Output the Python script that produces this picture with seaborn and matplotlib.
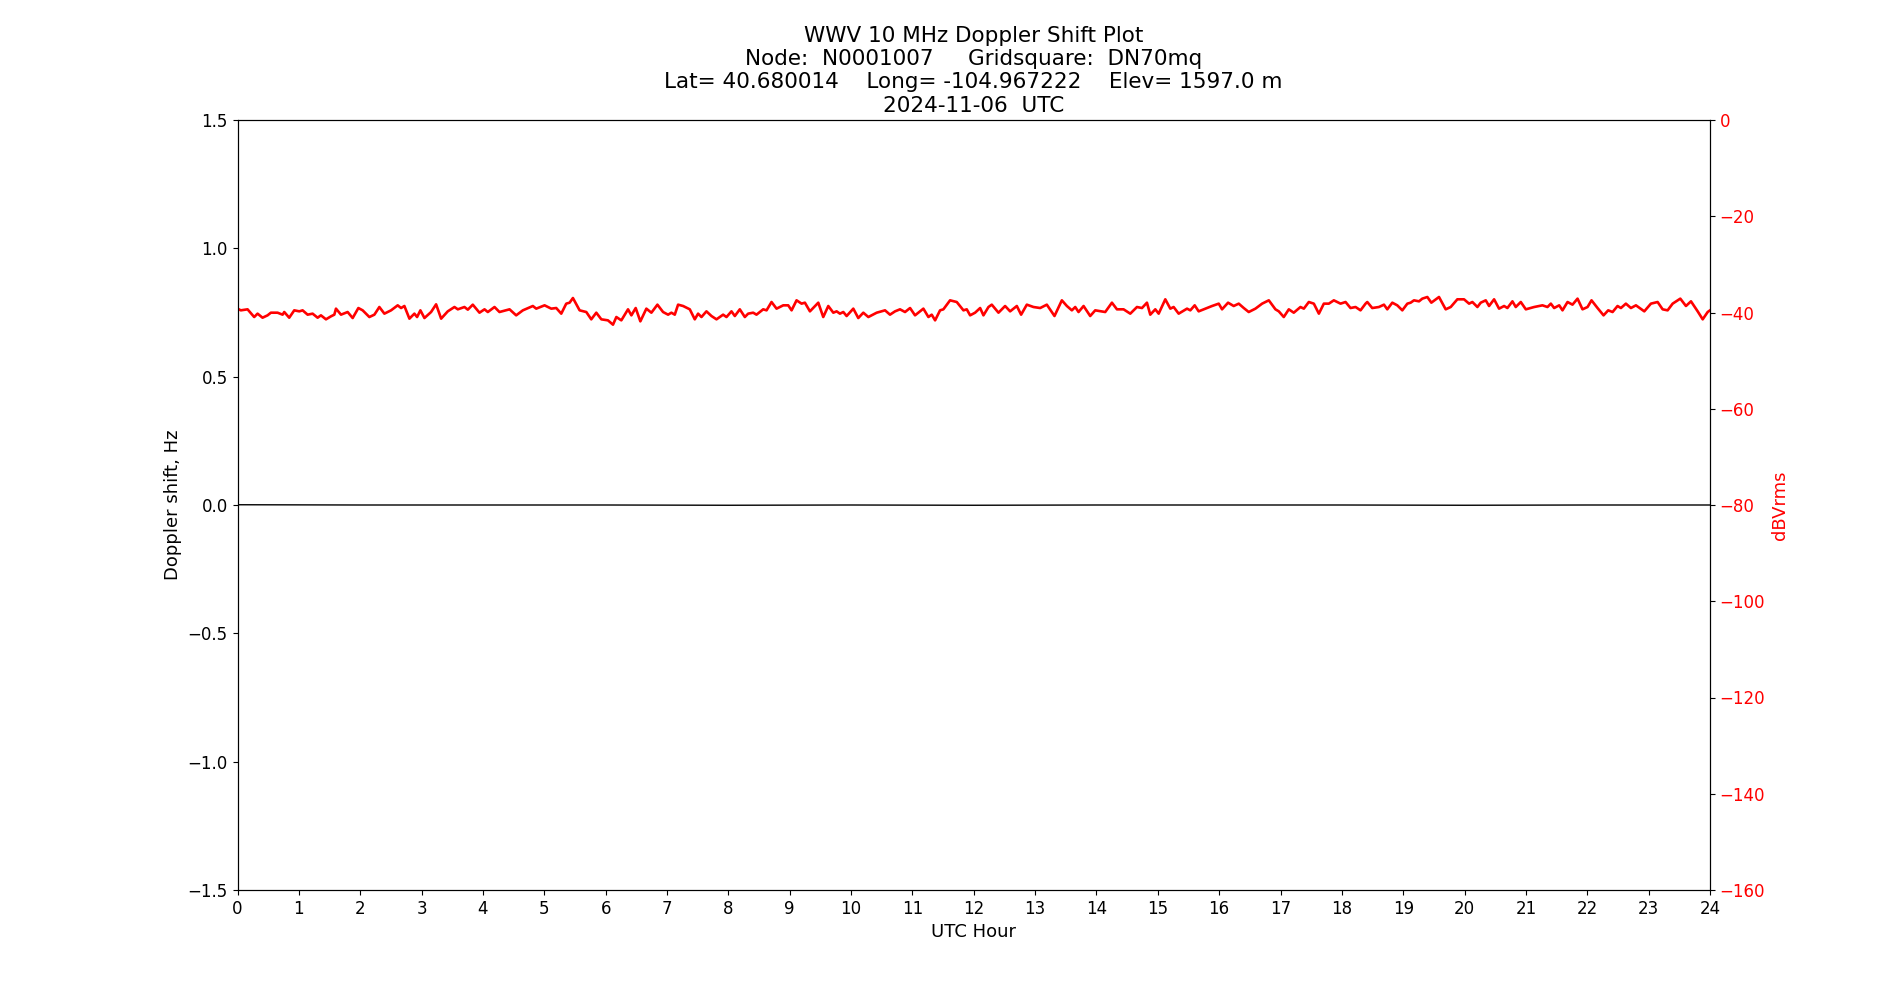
import numpy as np
import pandas as pd
import matplotlib
matplotlib.use("Agg")
import matplotlib.pyplot as plt
import seaborn as sns

# ---- data ----
doppler_hours = [0, 2, 4, 6, 8, 10, 12, 14, 16, 18, 20, 22, 24]
doppler_hz = [0.001, 0.0, 0.0, 0.0, -0.001, 0.0, -0.001, 0.0, 0.0, 0.0, -0.001, 0.0, 0.0]

power_hours = [
    0.0, 0.054, 0.164, 0.272, 0.327, 0.408, 0.490, 0.544, 0.653, 0.735, 0.762, 0.843, 0.925,
    1.007, 1.061, 1.143, 1.224, 1.306, 1.360, 1.442, 1.523, 1.578, 1.605, 1.687, 1.795, 1.877,
    1.970, 2.040, 2.149, 2.231, 2.312, 2.394, 2.503, 2.611, 2.666, 2.720, 2.802, 2.883, 2.927,
    2.981, 3.047, 3.155, 3.237, 3.319, 3.427, 3.536, 3.591, 3.699, 3.754, 3.835, 3.944, 4.026,
    4.080, 4.189, 4.270, 4.434, 4.542, 4.651, 4.814, 4.869, 5.005, 5.114, 5.195, 5.277, 5.358,
    5.413, 5.467, 5.576, 5.685, 5.766, 5.848, 5.930, 6.038, 6.120,
    6.175, 6.256, 6.365, 6.420, 6.490, 6.566, 6.664, 6.746, 6.844, 6.936, 7.018, 7.072, 7.127,
    7.181, 7.263, 7.372, 7.453, 7.507, 7.562, 7.643, 7.725, 7.807, 7.915, 7.970, 8.051, 8.106,
    8.187, 8.269, 8.323, 8.405, 8.459, 8.568, 8.623, 8.704, 8.786, 8.895, 8.976, 9.031, 9.112,
    9.194, 9.248, 9.330, 9.466, 9.547, 9.629, 9.711, 9.765, 9.819, 9.874, 9.928, 10.037, 10.118,
    10.200, 10.282, 10.418, 10.554, 10.635, 10.717, 10.798, 10.880, 10.962, 11.043, 11.179,
    11.261, 11.315, 11.370, 11.451, 11.505, 11.614, 11.723, 11.832, 11.886, 11.941, 12.022,
    12.104, 12.158, 12.240,
    12.294, 12.403, 12.511, 12.593, 12.702, 12.772, 12.865, 12.974, 13.083, 13.191, 13.316,
    13.436, 13.518, 13.599, 13.654, 13.708, 13.790, 13.898, 13.980, 14.143, 14.252, 14.334,
    14.442, 14.551, 14.660, 14.742, 14.823, 14.877, 14.959, 15.014, 15.122, 15.204, 15.258,
    15.340, 15.476, 15.530, 15.601, 15.666, 15.802, 15.884, 15.993, 16.047, 16.145, 16.237,
    16.319, 16.401, 16.482, 16.591, 16.700, 16.809, 16.917, 16.972, 17.053, 17.135, 17.216,
    17.325, 17.380, 17.461, 17.543, 17.625, 17.706, 17.788, 17.869, 17.978, 18.060, 18.141,
    18.223, 18.304, 18.386,
    18.414, 18.495, 18.604, 18.686, 18.740, 18.822, 18.903, 18.985, 19.067, 19.121, 19.175,
    19.257, 19.311, 19.393, 19.458, 19.583, 19.692, 19.774, 19.882, 19.991, 20.073, 20.127,
    20.209, 20.263, 20.345, 20.399, 20.481, 20.562, 20.644, 20.698, 20.780, 20.834, 20.916,
    20.998, 21.134, 21.269, 21.351, 21.406, 21.460, 21.542, 21.596, 21.678, 21.759, 21.841,
    21.922, 22.004, 22.069, 22.167, 22.265, 22.341, 22.412, 22.493, 22.548, 22.629, 22.711,
    22.793, 22.929, 23.037, 23.146, 23.228, 23.309, 23.391, 23.516, 23.608, 23.690, 23.799,
    23.881, 23.962, 24.0,
]
power_dbv = [
    -39.20, -39.55, -39.34, -40.94, -40.24, -41.08, -40.59, -40.04, -40.04, -40.45, -39.90, -41.08, -39.55,
    -39.76, -39.55, -40.45, -40.24, -41.08, -40.59, -41.42, -40.80, -40.45, -39.20, -40.45, -39.90, -41.15,
    -39.07, -39.55, -40.94, -40.45, -38.86, -40.24, -39.55, -38.51, -39.07, -38.65, -41.28, -40.24, -40.94,
    -39.55, -41.15, -39.90, -38.30, -41.28, -39.76, -38.86, -39.34, -38.86, -39.41, -38.37, -40.04, -39.34,
    -39.90, -38.86, -39.90, -39.34, -40.59, -39.55, -38.65, -39.20, -38.51, -39.20, -39.07, -40.24, -38.16,
    -37.96, -36.99, -39.55, -39.90, -41.42, -40.04, -41.42, -41.63, -42.53,
    -40.94, -41.63, -39.34, -40.59, -39.07, -41.84, -39.20, -40.04, -38.37, -39.90, -40.45, -40.04, -40.45,
    -38.37, -38.65, -39.34, -41.42, -40.24, -40.94, -39.76, -40.73, -41.42, -40.45, -40.94, -39.76, -40.73,
    -39.34, -40.94, -40.24, -40.04, -40.45, -39.34, -39.55, -37.82, -39.20, -38.51, -38.51, -39.55, -37.47,
    -38.16, -37.96, -39.76, -37.96, -40.94, -38.65, -40.04, -39.76, -40.24, -39.90, -40.73, -39.20, -41.15,
    -40.04, -40.94, -40.04, -39.55, -40.45, -39.76, -39.34, -39.90, -39.07, -40.59, -39.20,
    -40.94, -40.45, -41.63, -39.55, -39.34, -37.47, -37.82, -39.55, -39.34, -40.59, -40.04,
    -39.07, -40.59, -38.86,
    -38.37, -40.04, -38.65, -39.76, -38.65, -40.45, -38.37, -38.86, -39.07, -38.37, -40.73,
    -37.47, -38.65, -39.55, -38.86, -39.90, -38.65, -40.73, -39.55, -39.90, -37.96, -39.34,
    -39.34, -40.24, -38.86, -39.07, -37.96, -40.45, -39.34, -40.24, -37.26, -39.20, -38.86,
    -40.24, -39.20, -39.55, -38.51, -39.76, -39.07, -38.65, -38.16, -39.34, -37.96, -38.65,
    -38.16, -39.07, -39.90, -39.20, -38.16, -37.47, -39.34, -39.76, -40.94, -39.34, -40.04,
    -38.86, -39.20, -37.82, -38.16, -40.24, -38.16, -38.16, -37.47, -38.16, -37.82, -39.07,
    -38.86, -39.55, -38.16,
    -37.82, -39.07, -38.86, -38.37, -39.34, -37.96, -38.51, -39.55, -38.16, -37.96, -37.47,
    -37.68, -37.12, -36.78, -37.96, -36.78, -39.34, -38.86, -37.26, -37.26, -38.16, -37.82,
    -38.86, -37.96, -37.47, -38.65, -37.26, -39.20, -38.65, -39.07, -37.68, -38.86, -37.82,
    -39.34, -38.86, -38.51, -38.86, -38.16, -39.07, -38.51, -39.55, -37.82, -38.37, -37.12,
    -39.34, -38.86, -37.47, -39.07, -40.59, -39.55, -39.90, -38.65, -39.07, -38.16, -39.07,
    -38.51, -39.76, -38.16, -37.82, -39.34, -39.55, -38.16, -37.12, -38.65, -37.68, -39.76,
    -41.42, -39.90, -39.55,
]

x_ticks = list(range(0, 25))
title_lines = [
    "WWV 10 MHz Doppler Shift Plot",
    "Node:  N0001007     Gridsquare:  DN70mq",
    "Lat= 40.680014    Long= -104.967222    Elev= 1597.0 m",
    "2024-11-06  UTC",
]

plt.rcParams["font.family"] = ["DejaVu Sans"]
plt.rcParams["font.size"] = 12

dop_df = pd.DataFrame({"hour": doppler_hours, "hz": doppler_hz})
pow_df = pd.DataFrame({"hour": power_hours, "db": power_dbv})

fig, ax = plt.subplots(figsize=(19, 10), dpi=100)
fig.subplots_adjust(left=0.125, right=0.9, top=0.88, bottom=0.11)

sns.lineplot(data=dop_df, x="hour", y="hz", ax=ax, color="black", linewidth=1.0)
ax.set_xlim(0, 24)
ax.set_ylim(-1.5, 1.5)
ax.set_xticks(x_ticks)
ax.set_xlabel("UTC Hour", fontsize=13)
ax.set_ylabel("Doppler shift, Hz", fontsize=13)
ax.tick_params(labelsize=12)
ax.set_title("\n".join(title_lines), fontsize=15.5)

ax2 = ax.twinx()
sns.lineplot(data=pow_df, x="hour", y="db", ax=ax2, color="red", linewidth=1.9)
ax2.set_ylim(-160, 0)
ax2.set_xlim(0, 24)
ax2.set_ylabel("dBVrms", color="red", fontsize=13)
ax2.tick_params(axis="y", colors="red", labelsize=12)
ax2.tick_params(axis="y", color="black")

fig.savefig("out.png", dpi=100)
